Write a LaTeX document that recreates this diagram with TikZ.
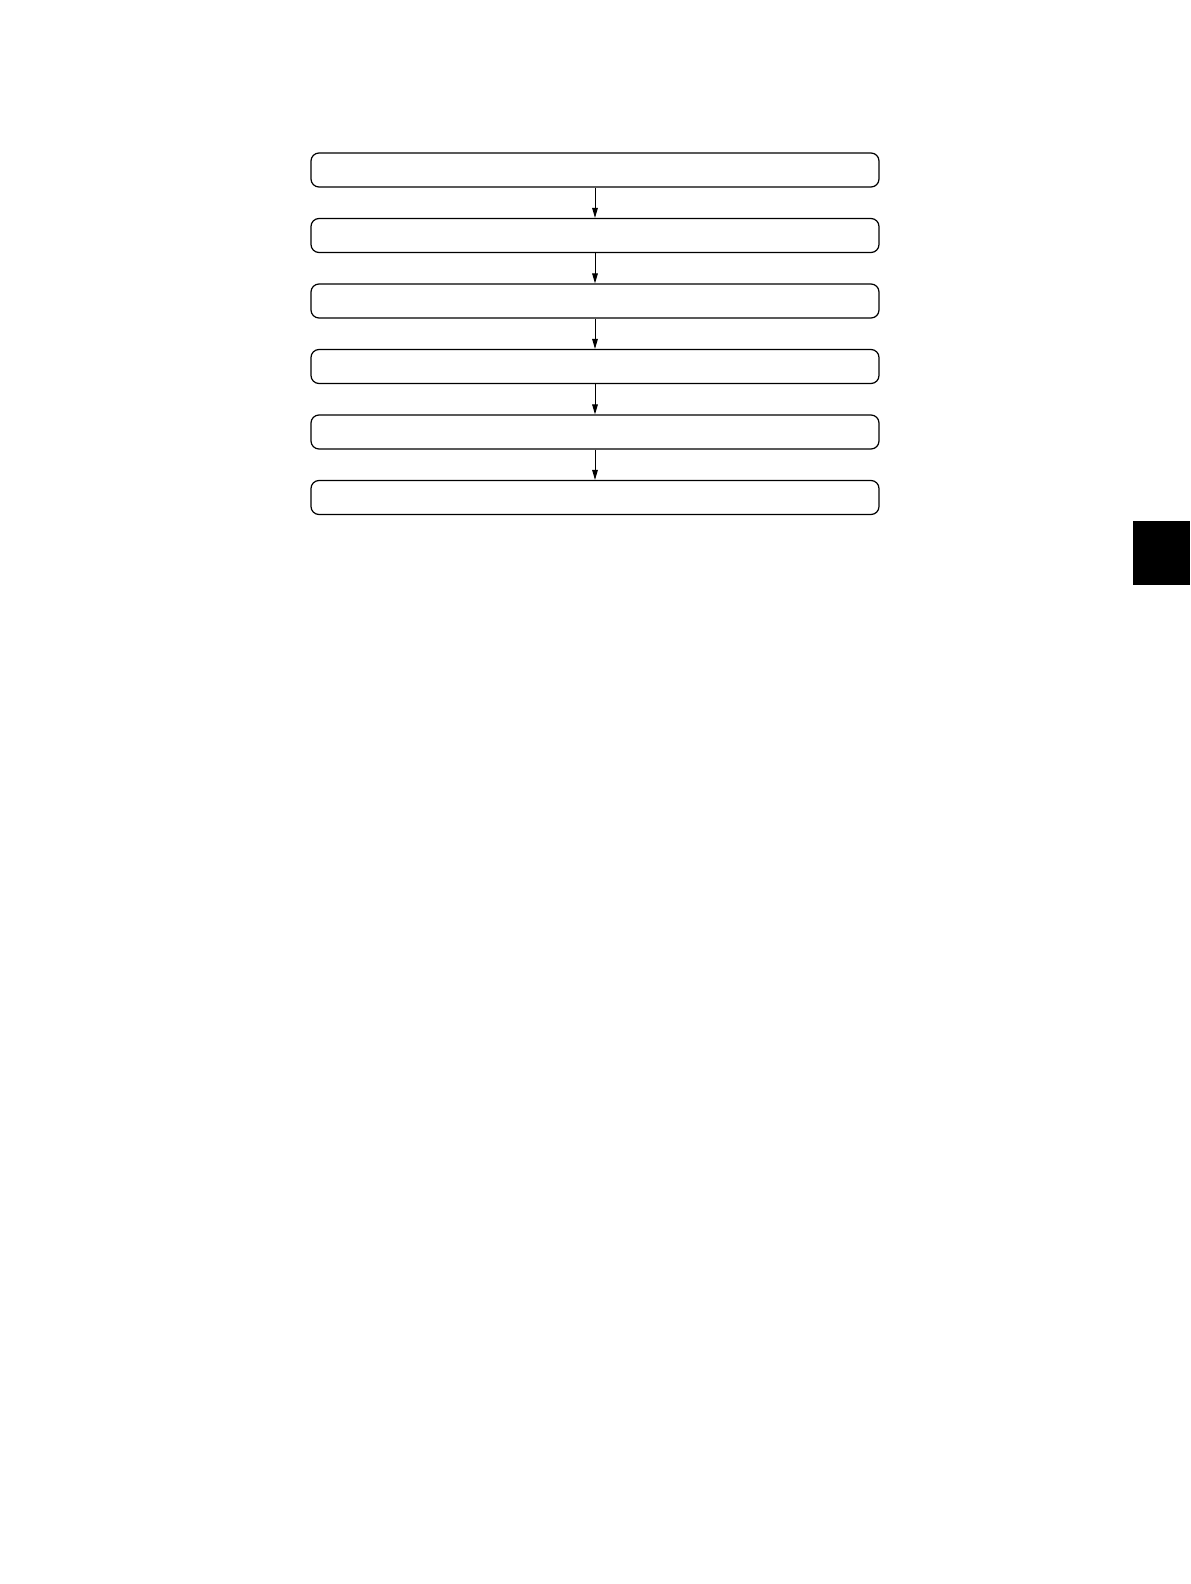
\documentclass[tikz,border=0pt]{standalone}
\usetikzlibrary{arrows.meta}
\begin{document}
\begin{tikzpicture}[x=0.5pt,y=-0.5pt,
  stepbox/.style={draw,line width=0.6pt,rounded corners=4pt,minimum width=284pt,minimum height=17pt,inner sep=0pt},
  flow/.style={draw,line width=0.5pt,-{Triangle[length=5pt,width=2.8pt]}}]
\useasboundingbox (0,0) rectangle (1190,1584);
\node[stepbox] (b1) at (595,170) {};
\node[stepbox] (b2) at (595,235.5) {};
\node[stepbox] (b3) at (595,301) {};
\node[stepbox] (b4) at (595,366.5) {};
\node[stepbox] (b5) at (595,432) {};
\node[stepbox] (b6) at (595,497.5) {};
\foreach \a/\b in {b1/b2,b2/b3,b3/b4,b4/b5,b5/b6}
  \draw[flow] (\a.south) -- (\b.north);
\fill (1133,521) rectangle (1190,585);
\end{tikzpicture}
\end{document}
